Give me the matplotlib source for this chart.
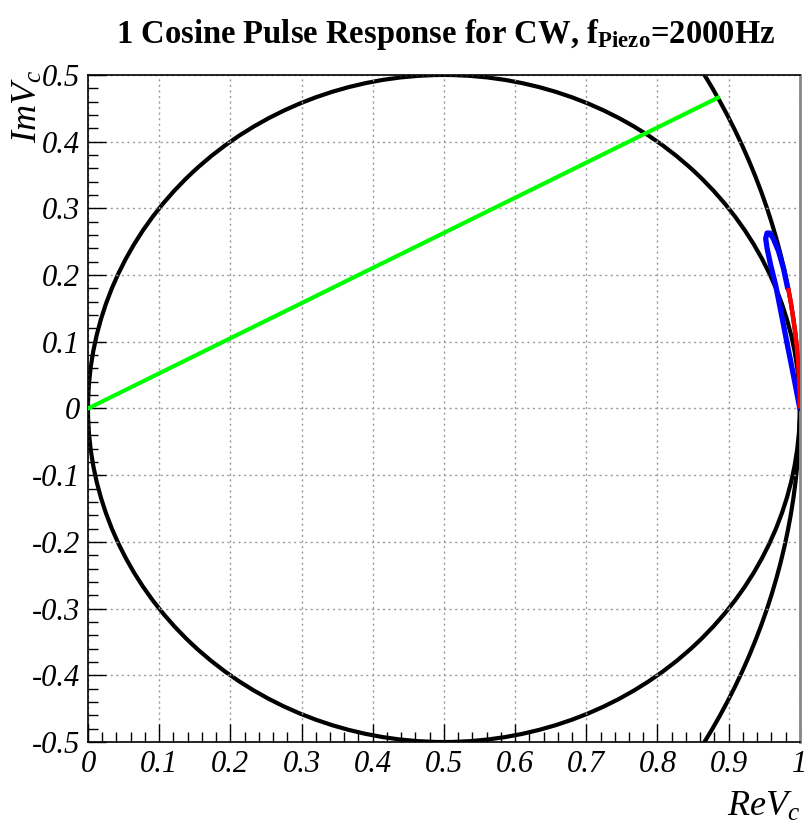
import matplotlib.pyplot as plt
from matplotlib.patches import Circle, Arc
from matplotlib.ticker import MultipleLocator

# circles: (centre x, centre y, radius)
small_circle = (0.5, 0.0, 0.5)
unit_circle = (0.0, 0.0, 1.0)

# green phasor line
green_x = [0.0, 0.885]
green_y = [0.0, 0.466]

# blue loop of the response
blue_x = [0.983, 0.977, 0.970, 0.963, 0.958, 0.954, 0.952, 0.954, 0.959, 0.966, 0.974, 0.982, 0.991, 1.0]
blue_y = [0.180, 0.210, 0.236, 0.254, 0.263, 0.263, 0.255, 0.240, 0.215, 0.185, 0.142, 0.098, 0.050, 0.0]

# red part lies on the unit circle (degrees)
red_theta = (0.0, 10.4)

serif = 'Liberation Serif'
plt.rcParams['mathtext.fontset'] = 'custom'
plt.rcParams['mathtext.bf'] = 'Liberation Serif:bold'
plt.rcParams['mathtext.it'] = 'Liberation Serif:italic'
plt.rcParams['mathtext.rm'] = 'Liberation Serif'

fig = plt.figure(figsize=(8.08, 8.23), dpi=100)
ax = fig.add_axes([0.1089, 0.0984, 0.881, 0.8105])

ax.add_patch(Circle(small_circle[:2], small_circle[2], fill=False, color='k', lw=3))
ax.add_patch(Circle(unit_circle[:2], unit_circle[2], fill=False, color='k', lw=3))
ax.plot(blue_x, blue_y, color='#0000ff', lw=3.8, solid_capstyle='round', zorder=3)
ax.add_patch(Arc(unit_circle[:2], 2 * unit_circle[2], 2 * unit_circle[2],
                 theta1=red_theta[0], theta2=red_theta[1], color='#ff0000', lw=3.2, zorder=4))
ax.plot(green_x, green_y, color='#00ff00', lw=3, zorder=5)

ax.set_xlim(0, 1)
ax.set_ylim(-0.5, 0.5)
ax.xaxis.set_minor_locator(MultipleLocator(0.02))
ax.yaxis.set_minor_locator(MultipleLocator(0.02))
ax.grid(True, which='major', color='#999999', linestyle=(0, (1.5, 2.5)), lw=1)
ax.tick_params(which='both', direction='in', top=False, right=False)
ax.tick_params(which='major', length=13, width=1, pad=6)
ax.tick_params(which='minor', length=7, width=1)

xt = [round(0.1 * i, 1) for i in range(11)]
ax.set_xticks(xt)
ax.set_xticklabels(['%g' % v for v in xt], family=serif, style='italic', fontsize=22)
yt = [round(-0.5 + 0.1 * i, 1) for i in range(11)]
ax.set_yticks(yt)
ax.set_yticklabels(['0' if v == 0 else '%g' % v for v in yt],
                   family=serif, style='italic', fontsize=22)

for s in ax.spines.values():
    s.set_linewidth(1.2)
ax.spines['right'].set_color('#888888')
ax.spines['right'].set_linewidth(2)

fig.text(0.551, 0.958, r'1 Cosine Pulse Response for CW, f$_{\mathbf{Piezo}}$=2000Hz',
         ha='center', va='center', family=serif, weight='bold', fontsize=23.5)

fig.text(0.99, 0.0, r'$ReV_c$', ha='right', va='bottom', fontsize=26)
fig.text(0.012, 0.915, r'$ImV_c$', ha='left', va='top', rotation=90, fontsize=26)

fig.savefig('out.png', dpi=100)
